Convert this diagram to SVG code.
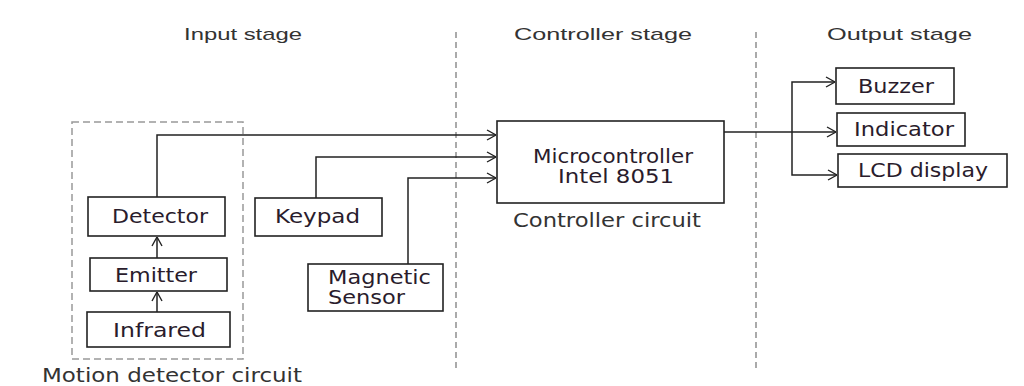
<svg xmlns="http://www.w3.org/2000/svg" width="1024" height="386" viewBox="0 0 1024 386">
<defs>
<style>
.box{fill:#fff;stroke:#222;stroke-width:1.6}
.lbl{font-family:"DejaVu Sans",Verdana,sans-serif;font-size:19px;fill:#2a1c2c}
.hdr{font-family:"Liberation Sans",Arial,sans-serif;font-size:17px;fill:#333}
.cap{font-family:"DejaVu Sans",Verdana,sans-serif;font-size:19px;fill:#333}
.sep{stroke:#aaa;stroke-width:2;stroke-dasharray:6,4;fill:none}
.grp{stroke:#999;stroke-width:1.5;stroke-dasharray:7,4;fill:none}
.wire{stroke:#222;stroke-width:1.5;fill:none}
</style>
<marker id="arr" viewBox="0 0 10 12" refX="10" refY="6" markerWidth="10" markerHeight="12" markerUnits="userSpaceOnUse" orient="auto">
<path d="M1,1 L10,6 L1,11" fill="none" stroke="#222" stroke-width="1.4"/>
</marker>
</defs>
<rect width="1024" height="386" fill="#fff"/>
<g id="stages">
<line class="sep" x1="456" y1="32" x2="456" y2="368"/>
<line class="sep" x1="756" y1="32" x2="756" y2="368"/>
<text class="hdr" x="184" y="40" textLength="118" lengthAdjust="spacingAndGlyphs">Input stage</text>
<text class="hdr" x="514" y="40" textLength="178" lengthAdjust="spacingAndGlyphs">Controller stage</text>
<text class="hdr" x="827" y="40" textLength="145" lengthAdjust="spacingAndGlyphs">Output stage</text>
</g>
<g id="motion-detector-circuit">
<rect class="grp" x="72" y="122" width="171" height="237"/>
<text class="cap" x="42" y="382" textLength="260" lengthAdjust="spacingAndGlyphs">Motion detector circuit</text>
</g>
<g id="detector">
<rect class="box" x="88" y="197" width="137" height="39"/>
<text class="lbl" x="112" y="223" textLength="96" lengthAdjust="spacingAndGlyphs">Detector</text>
</g>
<g id="emitter">
<rect class="box" x="90" y="258" width="137" height="33"/>
<text class="lbl" x="115" y="282" textLength="82" lengthAdjust="spacingAndGlyphs">Emitter</text>
</g>
<g id="infrared">
<rect class="box" x="87" y="312" width="143" height="35"/>
<text class="lbl" x="113" y="337" textLength="93" lengthAdjust="spacingAndGlyphs">Infrared</text>
</g>
<g id="keypad">
<rect class="box" x="255" y="198" width="127" height="38"/>
<text class="lbl" x="275" y="223" textLength="85" lengthAdjust="spacingAndGlyphs">Keypad</text>
</g>
<g id="magnetic-sensor">
<rect class="box" x="308" y="264" width="135" height="47"/>
<text class="lbl" x="328" y="284" textLength="103" lengthAdjust="spacingAndGlyphs">Magnetic</text>
<text class="lbl" x="328" y="304" textLength="77" lengthAdjust="spacingAndGlyphs">Sensor</text>
</g>
<g id="microcontroller">
<rect class="box" x="497" y="121" width="227" height="82"/>
<text class="lbl" x="533" y="163" textLength="160" lengthAdjust="spacingAndGlyphs">Microcontroller</text>
<text class="lbl" x="558" y="183" textLength="116" lengthAdjust="spacingAndGlyphs">Intel 8051</text>
<text class="cap" x="513" y="227" textLength="188" lengthAdjust="spacingAndGlyphs">Controller circuit</text>
</g>
<g id="buzzer">
<rect class="box" x="836" y="68" width="118" height="36"/>
<text class="lbl" x="858" y="93" textLength="76" lengthAdjust="spacingAndGlyphs">Buzzer</text>
</g>
<g id="indicator">
<rect class="box" x="837" y="113" width="128" height="33"/>
<text class="lbl" x="854" y="136" textLength="100" lengthAdjust="spacingAndGlyphs">Indicator</text>
</g>
<g id="lcd-display">
<rect class="box" x="838" y="154" width="169" height="33"/>
<text class="lbl" x="858" y="177" textLength="130" lengthAdjust="spacingAndGlyphs">LCD display</text>
</g>
<g id="connectors">
<line class="wire" x1="157" y1="312" x2="157" y2="292" marker-end="url(#arr)"/>
<line class="wire" x1="157" y1="258" x2="157" y2="237" marker-end="url(#arr)"/>
<polyline class="wire" points="157,197 157,135 496,135" marker-end="url(#arr)"/>
<polyline class="wire" points="316,198 316,157 496,157" marker-end="url(#arr)"/>
<polyline class="wire" points="408,264 408,178 496,178" marker-end="url(#arr)"/>
<line class="wire" x1="724" y1="132" x2="836" y2="132" marker-end="url(#arr)"/>
<polyline class="wire" points="792,132 792,82 835,82" marker-end="url(#arr)"/>
<polyline class="wire" points="792,132 792,175 837,175" marker-end="url(#arr)"/>
</g>
</svg>
